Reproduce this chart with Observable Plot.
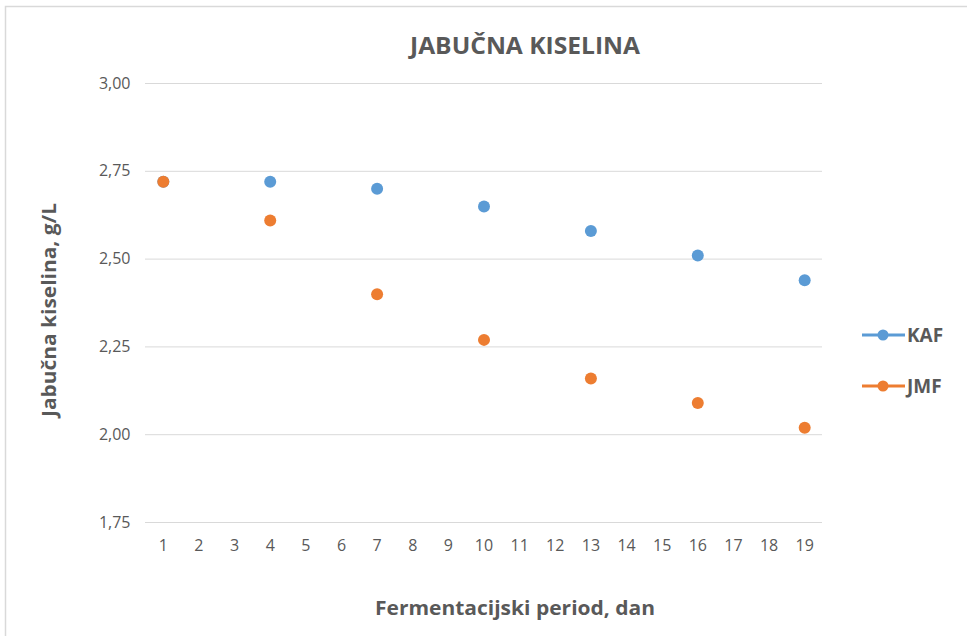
<!DOCTYPE html>
<html><head><meta charset="utf-8">
<script src="https://cdn.jsdelivr.net/npm/d3@7"></script>
<script src="https://cdn.jsdelivr.net/npm/@observablehq/plot@0.6"></script>
<style>body{margin:0;background:#fff;} #chart{position:relative;width:967px;height:636px;}</style>
</head><body><div id="chart"></div>
<script>
const days = [1, 4, 7, 10, 13, 16, 19];
const kaf = [2.72, 2.72, 2.70, 2.65, 2.58, 2.51, 2.44];
const jmf = [2.72, 2.61, 2.40, 2.27, 2.16, 2.09, 2.02];
const xTicks = [1,2,3,4,5,6,7,8,9,10,11,12,13,14,15,16,17,18,19];
const yTicks = [1.75, 2.00, 2.25, 2.50, 2.75, 3.00];
const seriesNames = ["KAF", "JMF"];
const colors = ["#5B9BD5", "#ED7D31"];
const title = "JABUČNA KISELINA";
const xLabel = "Fermentacijski period, dan";
const yLabel = "Jabučna kiselina, g/L";

const data = [
  ...days.map((d, i) => ({day: d, value: kaf[i], series: seriesNames[0]})),
  ...days.map((d, i) => ({day: d, value: jmf[i], series: seriesNames[1]}))
];

const FONT = "'Open Sans', sans-serif";
const TXT = "#595959";

const plot = Plot.plot({
  width: 967, height: 636,
  marginLeft: 145, marginRight: 145, marginTop: 83, marginBottom: 114,
  style: {fontFamily: FONT, fontSize: "15px", color: TXT, background: "#fff", overflow: "visible"},
  x: {type: "point", domain: xTicks, padding: 0.5, round: false, label: null},
  y: {domain: [1.75, 3.0], label: null},
  color: {domain: seriesNames, range: colors},
  marks: [
    Plot.gridY(yTicks, {stroke: "#d9d9d9", strokeOpacity: 1, strokeWidth: 1}),
    Plot.axisY(yTicks, {tickSize: 0, tickPadding: 15, fontSize: 16, fill: TXT, tickFormat: d => d.toFixed(2).replace(".", ","), label: null}),
    Plot.axisX(xTicks, {tickSize: 0, tickPadding: 17, fontSize: 16, fill: TXT, label: null}),
    Plot.dot(data, {x: "day", y: "value", fill: "series", r: 6})
  ]
});

const svg = d3.select(plot);
// border
svg.insert("rect", ":first-child")
  .attr("x", 5.5).attr("y", 6.5).attr("width", 1000).attr("height", 700)
  .attr("fill", "none").attr("stroke", "#d9d9d9").attr("stroke-width", 1.5);

svg.append("text").text(title)
  .attr("x", 525).attr("y", 44).attr("text-anchor", "middle").attr("dominant-baseline", "central")
  .attr("font-family", FONT).attr("font-size", 24).attr("font-weight", "bold").attr("fill", TXT)
  .attr("textLength", 230).attr("lengthAdjust", "spacingAndGlyphs");

svg.append("text").text(xLabel)
  .attr("x", 515).attr("y", 607).attr("text-anchor", "middle").attr("dominant-baseline", "central")
  .attr("font-family", FONT).attr("font-size", 20).attr("font-weight", "bold").attr("fill", TXT)
  .attr("textLength", 280).attr("lengthAdjust", "spacingAndGlyphs");

svg.append("text").text(yLabel)
  .attr("transform", "translate(48,310) rotate(-90)").attr("text-anchor", "middle").attr("dominant-baseline", "central")
  .attr("font-family", FONT).attr("font-size", 20).attr("font-weight", "bold").attr("fill", TXT)
  .attr("textLength", 214).attr("lengthAdjust", "spacingAndGlyphs");

// legend
const lg = svg.append("g");
seriesNames.forEach((name, i) => {
  const y = 335 + i * 51;
  lg.append("line").attr("x1", 862).attr("x2", 905).attr("y1", y).attr("y2", y)
    .attr("stroke", colors[i]).attr("stroke-width", 3);
  lg.append("circle").attr("cx", 883).attr("cy", y).attr("r", 5.5).attr("fill", colors[i]);
  lg.append("text").text(name).attr("x", 907).attr("y", y).attr("text-anchor", "start").attr("dominant-baseline", "central")
    .attr("font-family", FONT).attr("font-size", 19).attr("font-weight", "bold").attr("fill", TXT);
});

document.getElementById("chart").appendChild(plot);
</script>
</body></html>
